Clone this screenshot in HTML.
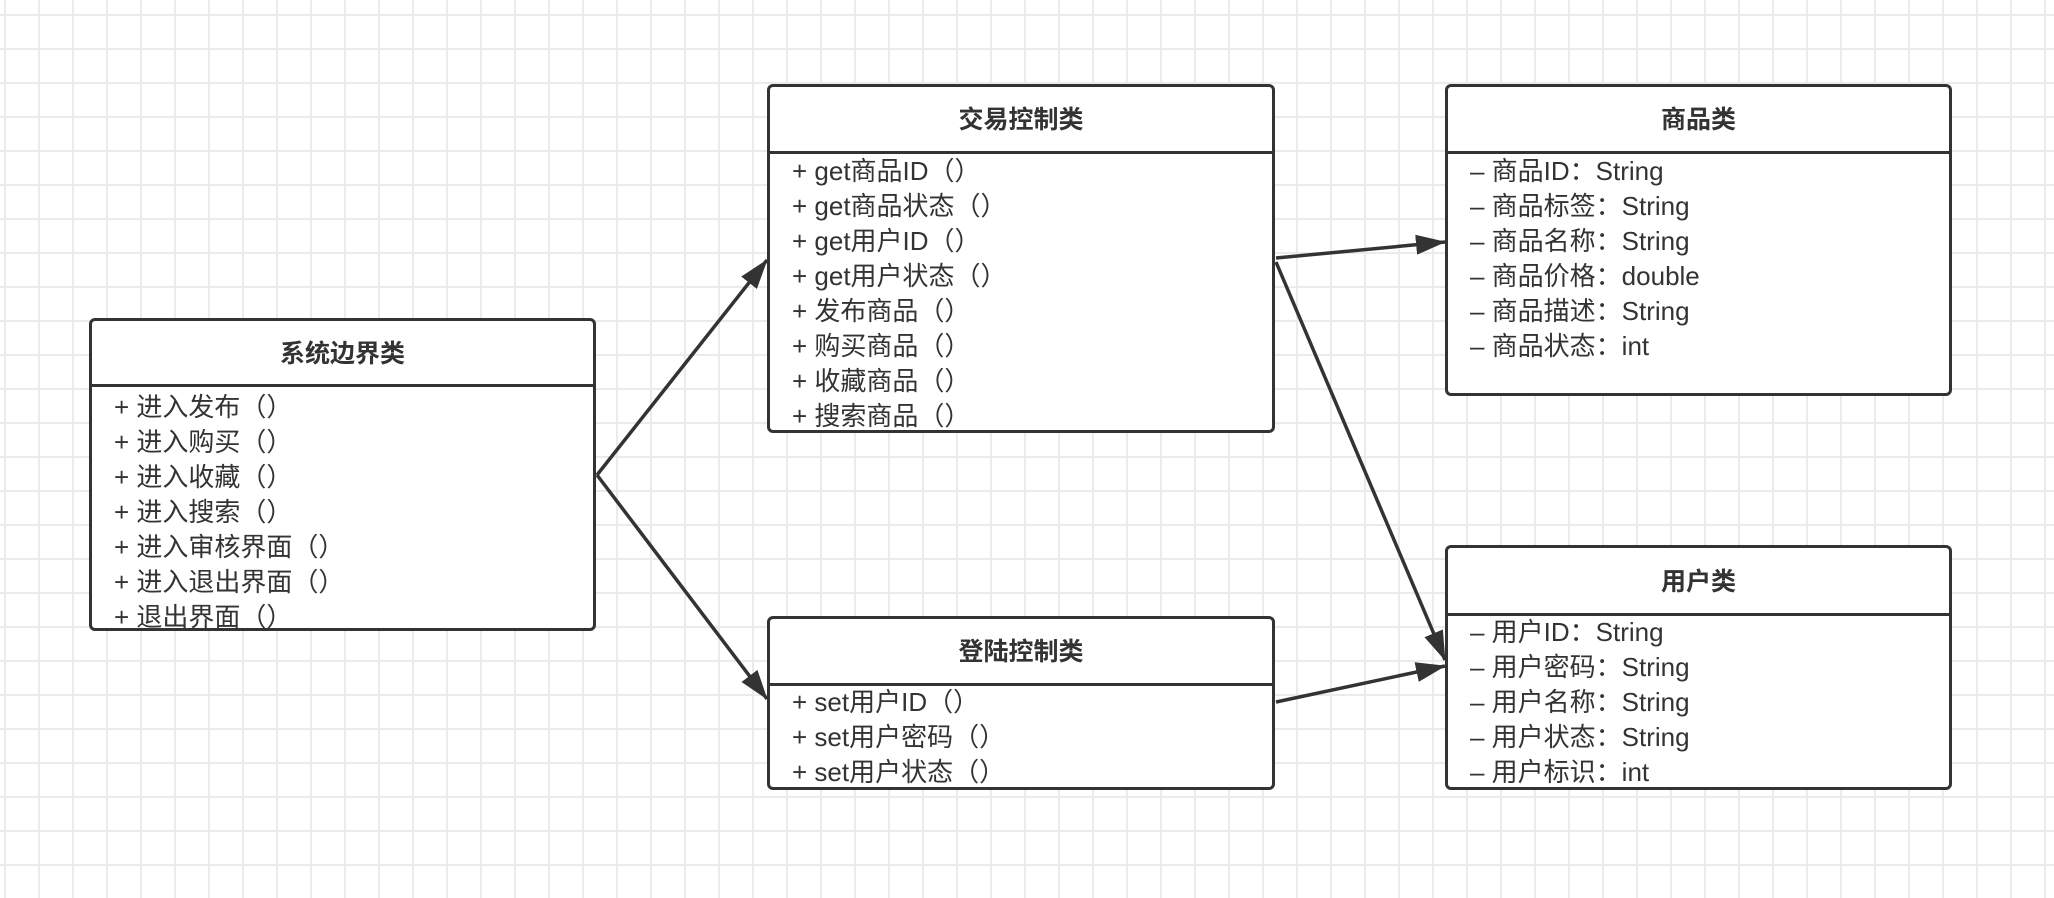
<!DOCTYPE html>
<html><head><meta charset="utf-8"><style>
html,body{margin:0;padding:0}
body{width:2054px;height:898px;position:relative;overflow:hidden;background:#fff;
background-image:linear-gradient(to right,#ebebeb 2px,transparent 2px),linear-gradient(to bottom,#ebebeb 2px,transparent 2px);
background-size:34px 34px;background-position:4px 14px;font-family:"Liberation Sans","Noto Sans CJK SC",sans-serif;color:#333}
.box{position:absolute;border:3px solid #333;border-radius:6px;background:#fff;box-sizing:border-box;overflow:hidden}
.hd{position:absolute;left:0;right:0;top:0;border-bottom:3px solid #333;font-weight:bold;font-size:25px;text-align:center;box-sizing:border-box}
.rows{position:absolute;left:22px;font-size:26px;line-height:35px;white-space:nowrap}
svg{position:absolute;left:0;top:0}
</style></head><body>
<div class="box" style="left:89px;top:318px;width:507px;height:313px">
<div class="hd" style="height:66px;line-height:66px">系统边界类</div>
<div class="rows" style="top:69px">+ 进入发布（）<br>+ 进入购买（）<br>+ 进入收藏（）<br>+ 进入搜索（）<br>+ 进入审核界面（）<br>+ 进入退出界面（）<br>+ 退出界面（）</div>
</div>
<div class="box" style="left:767px;top:84px;width:508px;height:349px">
<div class="hd" style="height:67px;line-height:67px">交易控制类</div>
<div class="rows" style="top:67px">+ get商品ID（）<br>+ get商品状态（）<br>+ get用户ID（）<br>+ get用户状态（）<br>+ 发布商品（）<br>+ 购买商品（）<br>+ 收藏商品（）<br>+ 搜索商品（）</div>
</div>
<div class="box" style="left:767px;top:616px;width:508px;height:174px">
<div class="hd" style="height:67px;line-height:67px">登陆控制类</div>
<div class="rows" style="top:66px">+ set用户ID（）<br>+ set用户密码（）<br>+ set用户状态（）</div>
</div>
<div class="box" style="left:1445px;top:84px;width:507px;height:312px">
<div class="hd" style="height:67px;line-height:67px">商品类</div>
<div class="rows" style="top:67px">– 商品ID：String<br>– 商品标签：String<br>– 商品名称：String<br>– 商品价格：double<br>– 商品描述：String<br>– 商品状态：int</div>
</div>
<div class="box" style="left:1445px;top:545px;width:507px;height:245px">
<div class="hd" style="height:68px;line-height:68px">用户类</div>
<div class="rows" style="top:67px">– 用户ID：String<br>– 用户密码：String<br>– 用户名称：String<br>– 用户状态：String<br>– 用户标识：int</div>
</div>
<svg width="2054" height="898">
<defs><marker id="a" markerWidth="10" markerHeight="8" refX="9" refY="4" orient="auto" markerUnits="userSpaceOnUse" viewBox="0 0 10 8"><path d="M0,0 L10,4 L0,8 Z" fill="#333"/></marker>
<marker id="b" markerWidth="30" markerHeight="20" refX="29" refY="10" orient="auto" markerUnits="userSpaceOnUse"><path d="M0,0 L30,10 L0,20 Z" fill="#333"/></marker></defs>
<g stroke="#333" stroke-width="3.5" fill="none" marker-end="url(#b)">
<line x1="597" y1="475" x2="767" y2="260"/>
<line x1="597" y1="475" x2="767" y2="699"/>
<line x1="1276" y1="258" x2="1445" y2="242"/>
<line x1="1276" y1="262" x2="1445" y2="660"/>
<line x1="1276" y1="702" x2="1445" y2="666"/>
</g>
</svg>
</body></html>
